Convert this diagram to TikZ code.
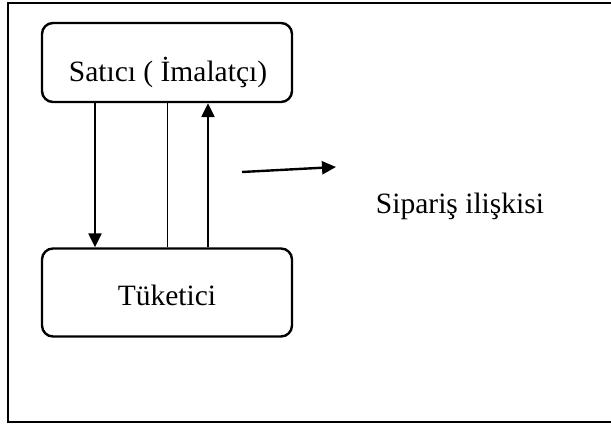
\documentclass[tikz,border=0pt]{standalone}
\usepackage{fontspec}
\setmainfont{Liberation Serif}
\usetikzlibrary{arrows.meta}
\begin{document}
\begin{tikzpicture}[x=1pt,y=-1pt,
  box/.style={draw,line width=2.4pt,rounded corners=11pt,minimum width=250pt,inner sep=0pt},
  lbl/.style={anchor=base,inner sep=0pt,font=\fontsize{29.5}{34}\selectfont},
  arr/.style={line width=2.4pt,-{Triangle[length=14pt,width=13pt]}},
  thin/.style={line width=1pt}]
\useasboundingbox (0,0) rectangle (611,425);
\draw[line width=2.2pt] (8,3) rectangle (615,422);
\node[box,minimum height=79pt] (sat) at (167,62.5) {};
\node[box,minimum height=88pt] (tuk) at (167,292.5) {};
\node[lbl] (satt) at (168,82) {Satıcı ( İmalatçı)};
\node[lbl] (tukt) at (167,305) {Tüketici};
\node[lbl] (sip) at (460,214) {Sipariş ilişkisi};
\coordinate (h1) at (242,172);
\coordinate (h2) at (336,167);
\draw[arr] (sat.south west -| 95,0) -- (tuk.north west -| 95,0);
\draw[thin] (sat.south west -| 167,0) -- (tuk.north west -| 167,0);
\draw[arr] (tuk.north west -| 208,0) -- (sat.south west -| 208,0);
\draw[arr] (h1) -- (h2);
\end{tikzpicture}
\end{document}
